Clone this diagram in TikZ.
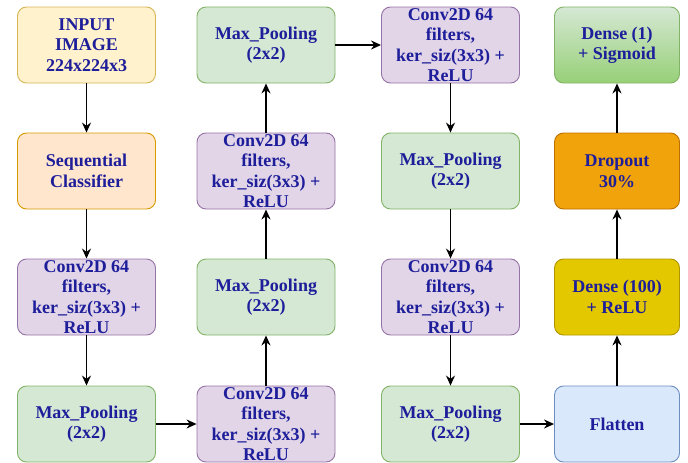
\documentclass[tikz,border=0pt]{standalone}
\usepackage{fontspec}
\setmainfont{Liberation Serif}
\usetikzlibrary{arrows.meta}

\definecolor{txtblue}{RGB}{30,30,155}
\definecolor{inputfill}{HTML}{FFF2CC}\definecolor{inputline}{HTML}{D6B656}
\definecolor{seqfill}{HTML}{FFE6CC}\definecolor{seqline}{HTML}{D79B00}
\definecolor{convfill}{HTML}{E1D5E7}\definecolor{convline}{HTML}{9673A6}
\definecolor{poolfill}{HTML}{D5E8D4}\definecolor{poolline}{HTML}{82B366}
\definecolor{sigfill}{HTML}{97D077}
\definecolor{dropfill}{HTML}{F0A30A}\definecolor{dropline}{HTML}{BD7000}
\definecolor{densefill}{HTML}{E3C800}\definecolor{denseline}{HTML}{B09500}
\definecolor{flatfill}{HTML}{DAE8FC}\definecolor{flatline}{HTML}{6C8EBF}

\tikzset{
  box/.style={draw, rounded corners=9pt, line width=0.9pt, minimum width=138pt,
    minimum height=76pt, align=center, inner ysep=-6pt,
    font=\fontsize{18}{20.5}\selectfont\bfseries, text=txtblue},
  convbox/.style={box, fill=convfill, draw=convline},
  poolbox/.style={box, fill=poolfill, draw=poolline},
  headbox/.style={box, minimum width=125pt},
  arr/.style={-{Stealth[length=10pt,width=9pt]}, line width=1.3pt}
}

\begin{document}
\begin{tikzpicture}[x=1pt,y=-1pt]
  \useasboundingbox (0,0) rectangle (688,463);

  \node[box,fill=inputfill,draw=inputline](input) at (86.5,45) {INPUT\\IMAGE\\224x224x3};
  \node[box,fill=seqfill,draw=seqline](seq)       at (86.5,171) {Sequential\\Classifier};
  \node[convbox](convA) at (86.5,297) {Conv2D 64\\filters,\\ker\_siz(3x3) +\\ReLU};
  \node[poolbox](poolA) at (86.5,424) {Max\_Pooling\\(2x2)};

  \node[convbox](convB) at (266,424) {Conv2D 64\\filters,\\ker\_siz(3x3) +\\ReLU};
  \node[poolbox](poolB) at (266,297) {Max\_Pooling\\(2x2)};
  \node[convbox](convC) at (266,171) {Conv2D 64\\filters,\\ker\_siz(3x3) +\\ReLU};
  \node[poolbox](poolC) at (266,45)  {Max\_Pooling\\(2x2)};

  \node[convbox](convD) at (450.5,45)  {Conv2D 64\\filters,\\ker\_siz(3x3) +\\ReLU};
  \node[poolbox](poolD) at (450.5,171) {Max\_Pooling\\(2x2)};
  \node[convbox](convE) at (450.5,297) {Conv2D 64\\filters,\\ker\_siz(3x3) +\\ReLU};
  \node[poolbox](poolE) at (450.5,424) {Max\_Pooling\\(2x2)};

  \node[headbox,fill=flatfill,draw=flatline](flat)     at (617,424) {Flatten};
  \node[headbox,fill=densefill,draw=denseline](dense)  at (617,297) {Dense (100)\\+ ReLU};
  \node[headbox,fill=dropfill,draw=dropline](drop)     at (617,171) {Dropout\\30\%};
  \node[headbox,top color=poolfill,bottom color=sigfill,draw=poolline](sig) at (617,45) {Dense (1)\\+ Sigmoid};

  \draw[arr] (input)--(seq);
  \draw[arr] (seq)--(convA);
  \draw[arr] (convA)--(poolA);
  \draw[arr] (poolA)--(convB);

  \draw[arr] (convB)--(poolB);
  \draw[arr] (poolB)--(convC);
  \draw[arr] (convC)--(poolC);
  \draw[arr] (poolC)--(convD);

  \draw[arr] (convD)--(poolD);
  \draw[arr] (poolD)--(convE);
  \draw[arr] (convE)--(poolE);
  \draw[arr] (poolE)--(flat);

  \draw[arr] (flat)--(dense);
  \draw[arr] (dense)--(drop);
  \draw[arr] (drop)--(sig);
\end{tikzpicture}
\end{document}
